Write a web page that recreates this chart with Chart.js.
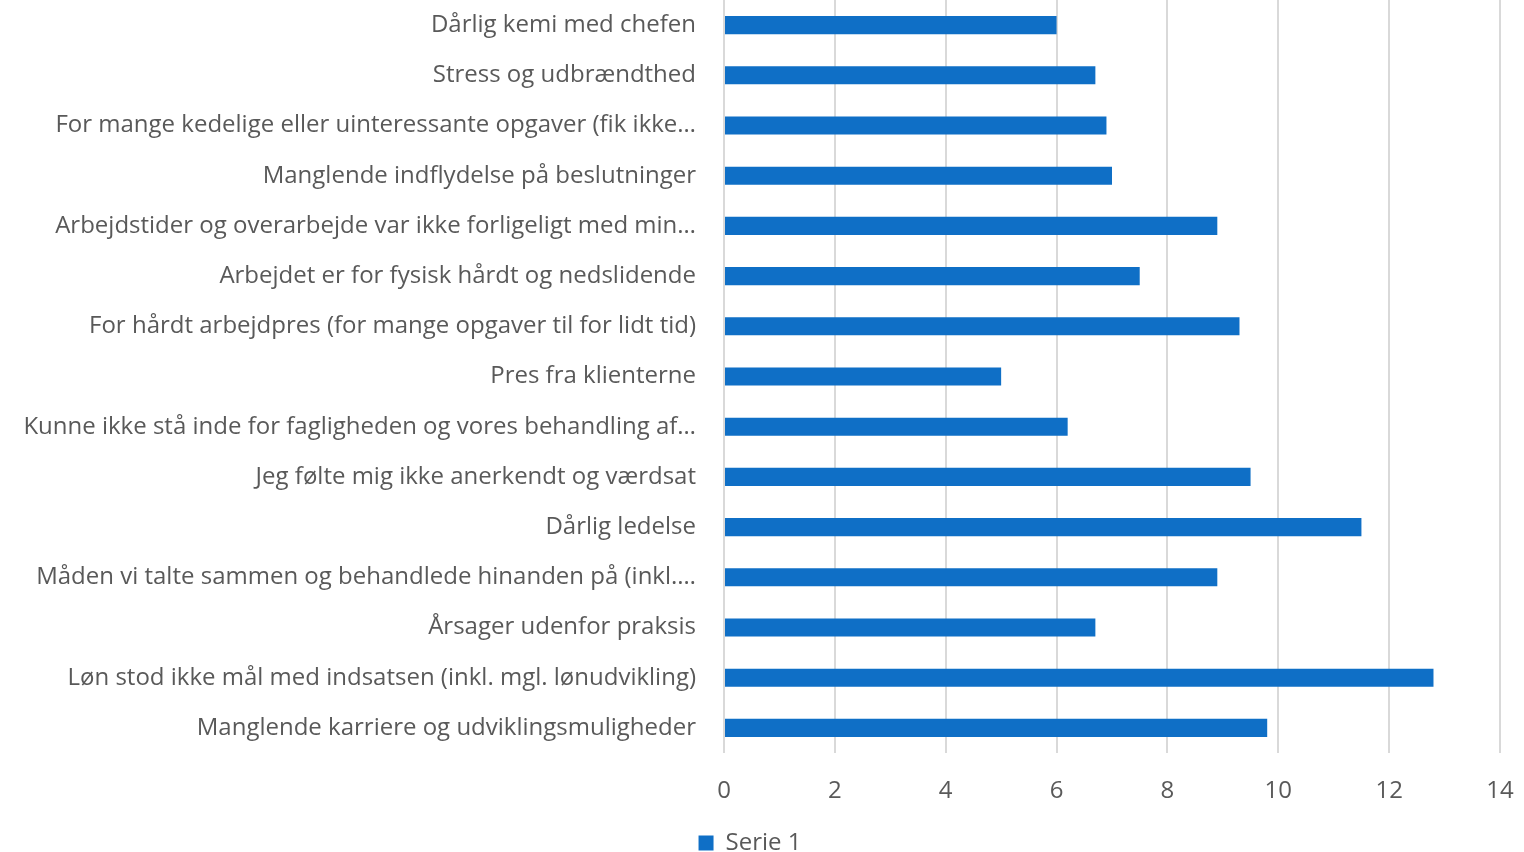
<!DOCTYPE html>
<html lang="da">
<head>
  <meta charset="UTF-8">
  <title>Årsager</title>
  <script src="https://cdn.jsdelivr.net/npm/chart.js"></script>
  <style>
    html, body { margin: 0; padding: 0; background: #fff; }
    #wrap { width: 1524px; height: 852px; }
  </style>
</head>
<body>
<div id="wrap"><canvas id="chart" width="1524" height="852"></canvas></div>

<script>
  const categories = [
    'Dårlig kemi med chefen',
    'Stress og udbrændthed',
    'For mange kedelige eller uinteressante opgaver (fik ikke…',
    'Manglende indflydelse på beslutninger',
    'Arbejdstider og overarbejde var ikke forligeligt med min…',
    'Arbejdet er for fysisk hårdt og nedslidende',
    'For hårdt arbejdpres (for mange opgaver til for lidt tid)',
    'Pres fra klienterne',
    'Kunne ikke stå inde for fagligheden og vores behandling af…',
    'Jeg følte mig ikke anerkendt og værdsat',
    'Dårlig ledelse',
    'Måden vi talte sammen og behandlede hinanden på (inkl.…',
    'Årsager udenfor praksis',
    'Løn stod ikke mål med indsatsen (inkl. mgl. lønudvikling)',
    'Manglende karriere og udviklingsmuligheder'
  ];
  const serie1 = [6.0, 6.7, 6.9, 7.0, 8.9, 7.5, 9.3, 5.0, 6.2, 9.5, 11.5, 8.9, 6.7, 12.8, 9.8];
  const xTicks = [0, 2, 4, 6, 8, 10, 12, 14];

  const textColor = '#595959';
  const fontFamily = '"Open Sans", sans-serif';

  const ctx = document.getElementById('chart').getContext('2d');

  new Chart(ctx, {
    type: 'bar',
    data: {
      labels: categories,
      datasets: [{
        label: 'Serie 1',
        data: serie1,
        backgroundColor: '#0F6FC6',
        borderWidth: 0,
        barPercentage: 0.72,
        categoryPercentage: 0.5
      }]
    },
    options: {
      indexAxis: 'y',
      responsive: false,
      animation: false,
      // negative bottom padding pushes the legend close to the lower edge
      layout: { padding: { top: 0, right: 24, bottom: -13, left: 0 } },
      plugins: {
        legend: {
          position: 'bottom',
          labels: {
            color: textColor,
            font: { family: fontFamily, size: 24, lineHeight: 1 },
            boxWidth: 15,
            boxHeight: 15,
            padding: 0
          }
        },
        tooltip: { enabled: false }
      },
      scales: {
        x: {
          min: 0,
          max: 14,
          afterBuildTicks: (scale) => { scale.ticks = xTicks.map(v => ({ value: v })); },
          afterFit: (scale) => { scale.paddingRight = 0; scale.paddingLeft = 0; scale.height = 78; },
          grid: { color: '#d9d9d9', lineWidth: 2, drawTicks: false },
          border: { display: false },
          ticks: {
            color: textColor,
            font: { family: fontFamily, size: 24 },
            padding: 24
          }
        },
        y: {
          afterFit: (scale) => { scale.width = 724; scale.paddingTop = 0; scale.paddingBottom = 0; },
          grid: { display: false },
          border: { display: false },
          ticks: {
            color: textColor,
            font: { family: fontFamily, size: 24 },
            padding: 20,
            autoSkip: false
          }
        }
      }
    }
  });
</script>
</body>
</html>
